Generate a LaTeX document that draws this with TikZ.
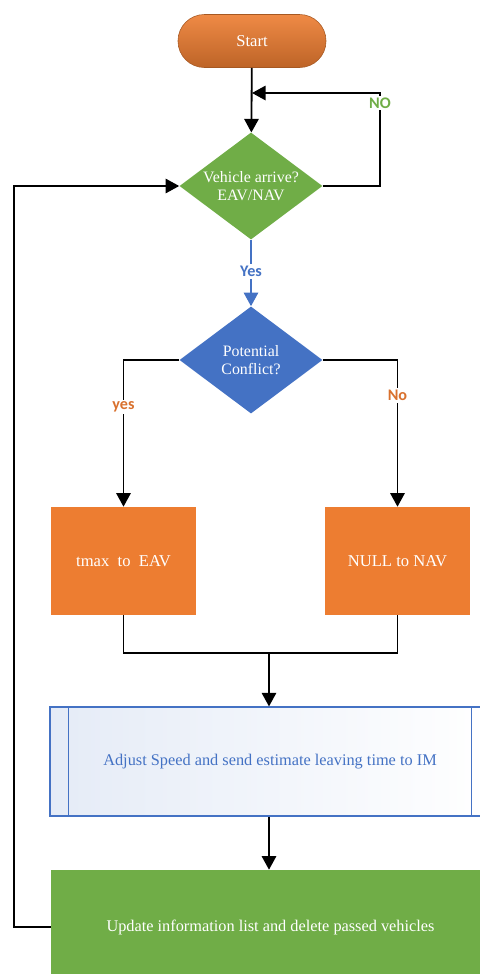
\documentclass[tikz,border=0pt]{standalone}
\usepackage{fontspec}
\setmainfont{Liberation Serif}
\newfontfamily\lblfont{Carlito}
\usetikzlibrary{shapes.geometric,arrows.meta}

\definecolor{acOrange}{HTML}{ED7D31}
\definecolor{acGreen}{HTML}{70AD47}
\definecolor{acBlue}{HTML}{4472C4}
\definecolor{acLabel}{HTML}{D9712E}

\begin{document}
\begin{tikzpicture}[x=0.025cm, y=-0.025cm,
  line/.style={draw=black, line width=1.3pt},
  arrow/.style={line, -{Triangle[length=3.4mm,width=3.6mm]}},
  decision/.style={diamond, aspect=1.34, inner sep=-2pt,
    minimum width=3.575cm, minimum height=2.675cm, text=white,
    align=center, font=\fontsize{11.3}{12.5}\selectfont},
  block/.style={rectangle, fill=acOrange, text=white,
    minimum width=3.625cm, minimum height=2.7cm,
    font=\fontsize{11.8}{13.5}\selectfont},
  lbl/.style={fill=white, inner sep=1.5pt, font=\lblfont\bfseries\fontsize{11.5}{13}\selectfont}]

  \clip (0,0) rectangle (480,974);

  % Knoten
  \node[rectangle, rounded corners=0.66cm, top color=acOrange!90!white,
    bottom color=acOrange!80!black, draw=acOrange!70!black, thin,
    minimum width=3.7cm, minimum height=1.325cm, text=white,
    font=\fontsize{11.8}{13.5}\selectfont] (start) at (252,41) {Start};
  \node[decision, fill=acGreen] (arrive) at (251,186) {Vehicle arrive?\\EAV/NAV};
  \node[decision, fill=acBlue] (conflict) at (251,360) {Potential\\Conflict?};
  \node[block] (eav) at (123.5,561) {tmax~~to~~EAV};
  \node[block] (nav) at (397.5,561) {NULL to NAV};
  \node[rectangle, draw=acBlue, thick, left color=acBlue!14!white, right color=white,
    minimum width=11cm, minimum height=2.725cm, text=acBlue,
    font=\fontsize{11.6}{13.5}\selectfont] (adjust) at (270,761.5)
    {Adjust Speed and send estimate leaving time to IM};
  \draw[acBlue, thick] ([xshift=0.475cm]adjust.north west) -- ([xshift=0.475cm]adjust.south west);
  \draw[acBlue, thick] ([xshift=-0.475cm]adjust.north east) -- ([xshift=-0.475cm]adjust.south east);
  \node[rectangle, fill=acGreen, text=white, minimum width=10.975cm, minimum height=2.85cm,
    font=\fontsize{11.6}{13.5}\selectfont] (update) at (270.5,927)
    {Update information list and delete passed vehicles};

  \coordinate (join) at (252,93);
  \coordinate (noturn) at (380,93);
  \coordinate (merge) at (269,653);

  % Verbindungen
  \draw[arrow] (start) -- (arrive);
  \draw[arrow] (arrive.east) -| (noturn) -- (join);
  \node[lbl, text=acGreen] at (380,103) {NO};
  \draw[line, acBlue, -{Triangle[length=3.4mm,width=3.6mm]}] (arrive.south) -- (conflict.north)
    node[lbl, text=acBlue, pos=0.48] {Yes};
  \draw[arrow] (conflict.west) -| (eav.north) node[lbl, text=acLabel, pos=0.66] {yes};
  \draw[arrow] (conflict.east) -| (nav.north) node[lbl, text=acLabel, pos=0.62] {No};
  \draw[line] (eav.south) |- (merge) -| (nav.south);
  \draw[arrow] (merge) -- (merge |- adjust.north);
  \draw[arrow] (merge |- adjust.south) -- (merge |- update.north);
  \draw[arrow] (update.west) -- ++(-37,0) |- (arrive.west); % Rueckfuehrung
\end{tikzpicture}
\end{document}
